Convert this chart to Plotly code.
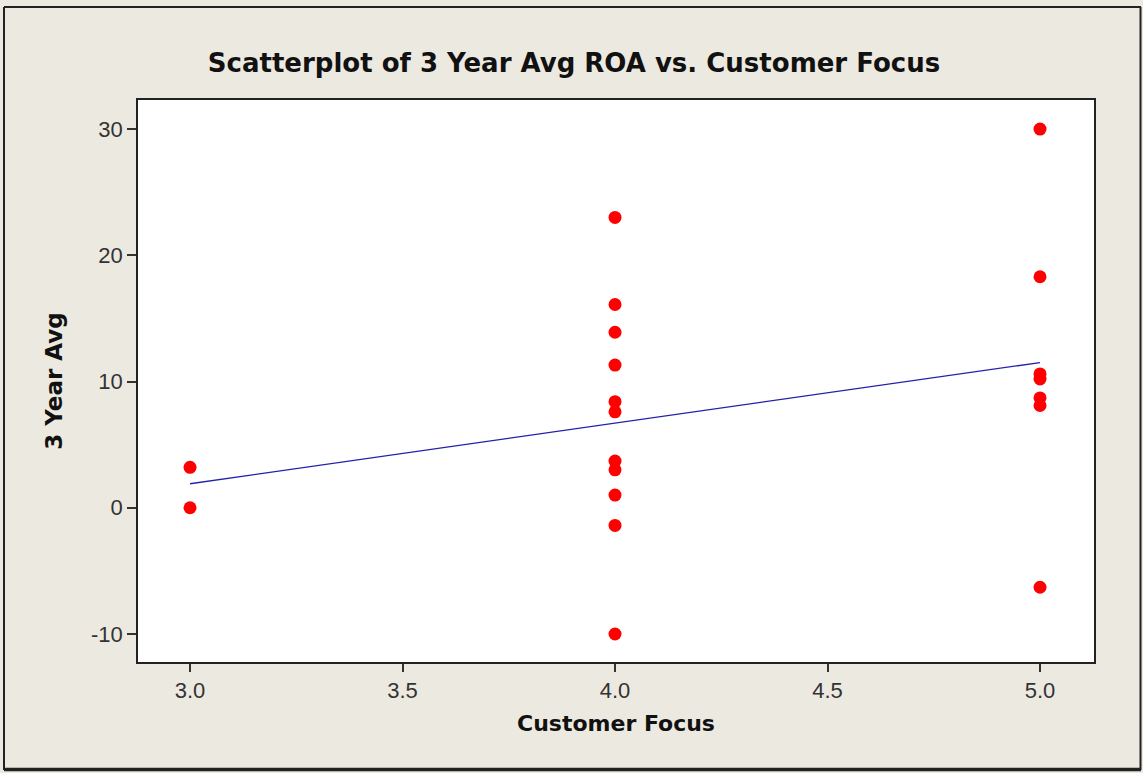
import plotly.graph_objects as go

# Data
customer_focus = [3, 3,
                  4, 4, 4, 4, 4, 4, 4, 4, 4, 4, 4,
                  5, 5, 5, 5, 5, 5, 5]
roa_3yr_avg = [3.2, 0.0,
               23.0, 16.1, 13.9, 11.3, 8.4, 7.6, 3.7, 3.0, 1.0, -1.4, -10.0,
               30.0, 18.3, 10.6, 10.2, 8.7, 8.1, -6.3]
fit_x = [3.0, 5.0]
fit_y = [1.9, 11.5]
x_ticks = [3.0, 3.5, 4.0, 4.5, 5.0]
x_tick_labels = ["3.0", "3.5", "4.0", "4.5", "5.0"]
y_ticks = [-10, 0, 10, 20, 30]
y_tick_labels = ["-10", "0", "10", "20", "30"]

BOLD = "DejaVu Sans"
TICKF = "Liberation Sans"
BG = "#ECE9E1"

# plot area in pixels: x 138..1094, y 100..662
PL, PR, PT, PB = 138, 1094, 100, 662
PW, PH = PR - PL, PB - PT


def px(x):
    return (x - PL) / PW


def py(y):
    return (PB - y) / PH


fig = go.Figure()
fig.add_trace(go.Scatter(
    x=fit_x, y=fit_y, mode="lines",
    line=dict(color="#2222AA", width=1.3),
    showlegend=False, hoverinfo="skip"))
fig.add_trace(go.Scatter(
    x=customer_focus, y=roa_3yr_avg, mode="markers",
    marker=dict(color="#FF0000", size=13, line=dict(width=0)),
    showlegend=False))

fig.update_layout(
    width=1143, height=773,
    paper_bgcolor=BG, plot_bgcolor="white",
    margin=dict(l=PL, r=1143 - PR, t=PT, b=773 - PB),
    title=dict(text="<b>Scatterplot of 3 Year Avg ROA vs. Customer Focus</b>",
               x=574 / 1143, xref="container", xanchor="center",
               y=1 - 63 / 773, yref="container", yanchor="middle",
               font=dict(family=BOLD, size=26, color="#111111")),
    font=dict(family=TICKF, color="#222222"),
)
fig.update_xaxes(
    range=[2.8776, 5.127], tickvals=x_ticks, ticktext=x_tick_labels,
    showgrid=False, zeroline=False,
    showline=True, linecolor="#222222", linewidth=1.6, mirror=True,
    ticks="outside", ticklen=8, tickwidth=1.5, tickcolor="#333333",
    tickfont=dict(family=TICKF, size=22, color="#333333"),
    title=dict(text="<b>Customer Focus</b>", standoff=13,
               font=dict(family=BOLD, size=22, color="#111111")))
fig.update_yaxes(
    range=[-12.22, 32.3], tickvals=y_ticks, ticktext=y_tick_labels,
    showgrid=False, zeroline=False,
    showline=True, linecolor="#222222", linewidth=1.6, mirror=True,
    ticks="outside", ticklen=9, tickwidth=1.5, tickcolor="#333333",
    tickfont=dict(family=TICKF, size=22, color="#333333"),
    title=dict(text="<b>3 Year Avg</b>", standoff=22,
               font=dict(family=BOLD, size=23, color="#111111")))

# outer frame of the graph window
frame = "#222222"
fig.add_shape(type="line", xref="paper", yref="paper",
              x0=px(4), x1=px(1141), y0=py(7), y1=py(7),
              line=dict(color=frame, width=2))
fig.add_shape(type="line", xref="paper", yref="paper",
              x0=px(4), x1=px(4), y0=py(7), y1=py(770),
              line=dict(color=frame, width=2))
fig.add_shape(type="line", xref="paper", yref="paper",
              x0=px(1140.5), x1=px(1140.5), y0=py(7), y1=py(770),
              line=dict(color=frame, width=2))
fig.add_shape(type="line", xref="paper", yref="paper",
              x0=px(4), x1=px(1141), y0=py(769.5), y1=py(769.5),
              line=dict(color=frame, width=3.5))

fig.write_html("out.html")
